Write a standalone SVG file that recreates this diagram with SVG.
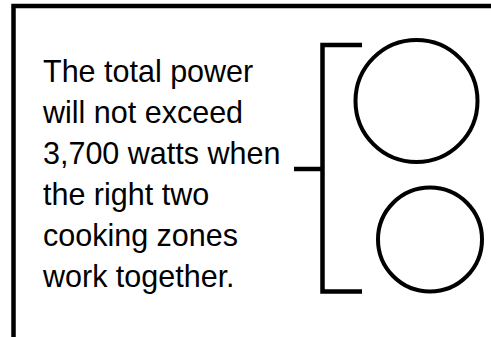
<svg xmlns="http://www.w3.org/2000/svg" width="491" height="337" viewBox="0 0 491 337">
<style>
.ln{stroke:#000;stroke-width:4.5;fill:none}
.zone{stroke:#000;stroke-width:4;fill:#fff}
.t{font-family:"Liberation Sans",Arial,sans-serif;font-size:30.5px;fill:#000}
</style>
<rect width="491" height="337" fill="#fff"/>
<g id="frame">
<path class="ln" d="M13.5 337 V6 H491"/>
</g>
<g id="label">
<text class="t" x="43" y="82">The total power</text>
<text class="t" x="43" y="123">will not exceed</text>
<text class="t" x="43" y="164">3,700 watts when</text>
<text class="t" x="43" y="205">the right two</text>
<text class="t" x="43" y="246">cooking zones</text>
<text class="t" x="43" y="287">work together.</text>
</g>
<g id="zone1"><circle class="zone" cx="416.5" cy="101" r="61"/></g>
<g id="zone2"><circle class="zone" cx="430" cy="239.5" r="52"/></g>
<g id="connectors">
<path class="ln" d="M362 45 H322.5 V291.5 H362"/>
<path class="ln" d="M294 169 H322.5"/>
</g>
</svg>
